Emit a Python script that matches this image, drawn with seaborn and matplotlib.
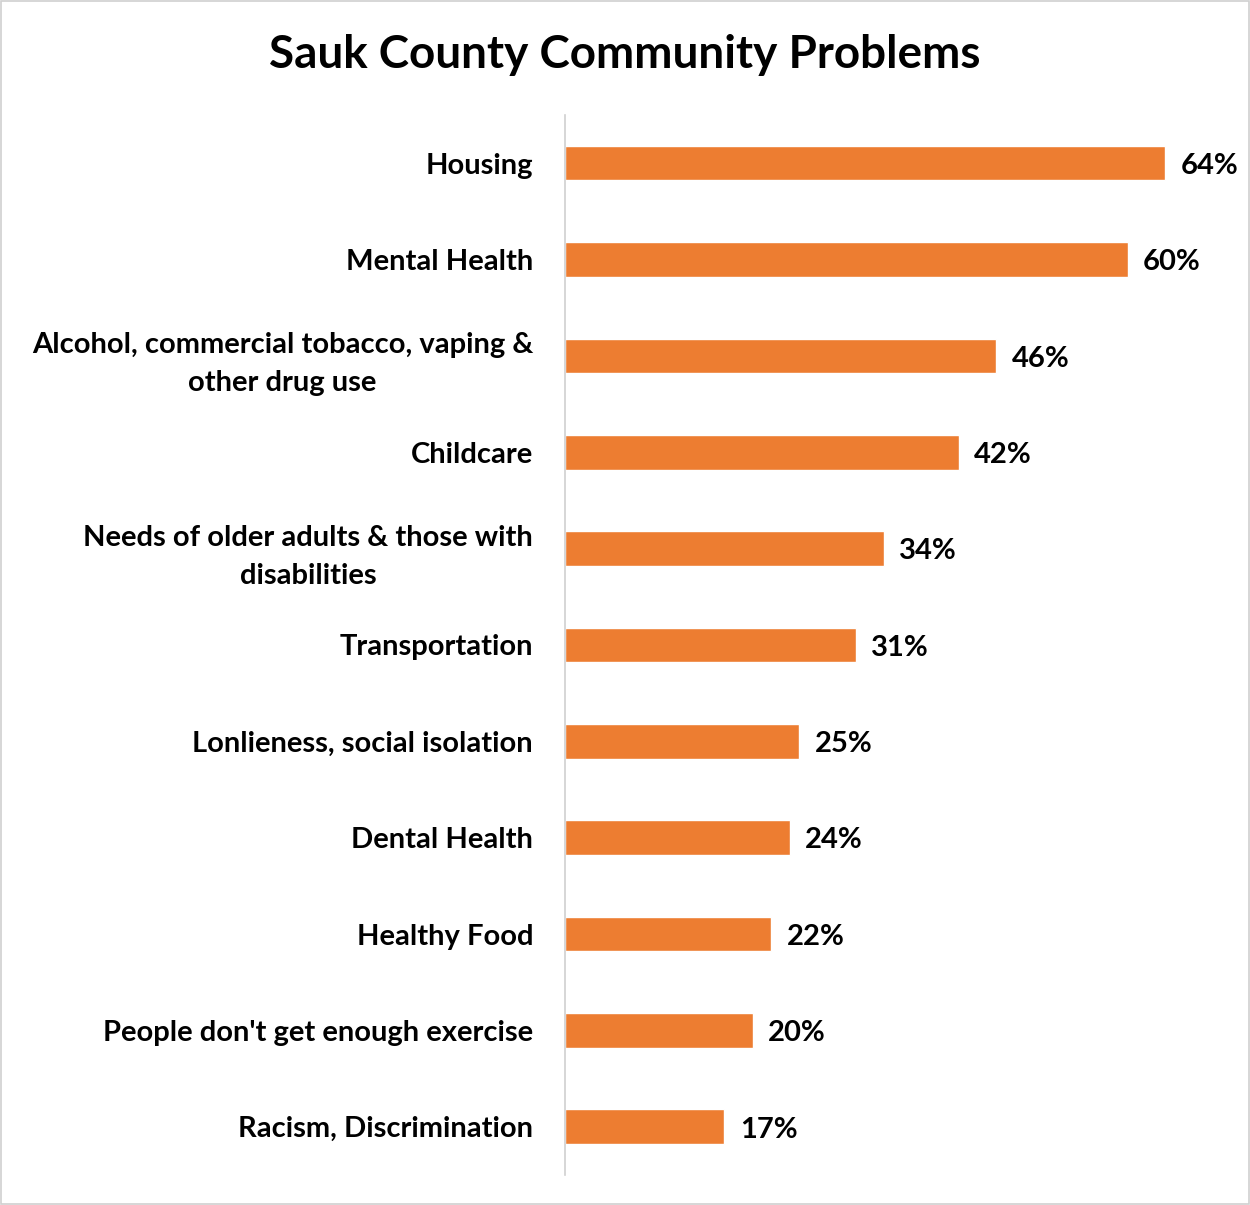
import numpy as np
import pandas as pd
import seaborn as sns
import matplotlib.pyplot as plt
from matplotlib.patches import Rectangle

problems = [
    "Housing",
    "Mental Health",
    "Alcohol, commercial tobacco, vaping &\nother drug use",
    "Childcare",
    "Needs of older adults & those with\ndisabilities",
    "Transportation",
    "Lonlieness, social isolation",
    "Dental Health",
    "Healthy Food",
    "People don't get enough exercise",
    "Racism, Discrimination",
]
pct = [64, 60, 46, 42, 34, 31, 25, 24, 22, 20, 17]

df = pd.DataFrame({"Problem": problems, "Percent": pct})

sns.set_theme(style="white")
plt.rcParams['font.family'] = ['Lato', 'DejaVu Sans']
plt.rcParams['text.color'] = 'black'
plt.rcParams['ytick.color'] = 'black'

fig = plt.figure(figsize=(12.5, 12.05), dpi=100)
ax = fig.add_axes([0.452, 0.0249, 0.54, 0.8797])

sns.barplot(data=df, x="Percent", y="Problem", color="#ED7D31", width=0.36,
            saturation=1, ax=ax)

ax.set_xlim(0, 72)
ax.set_ylim(10.5, -0.5)
ax.set_xlabel("")
ax.set_ylabel("")
ax.set_xticks([])
for s in ["top", "right", "bottom"]:
    ax.spines[s].set_visible(False)
ax.spines["left"].set_color("#D0D0D0")
ax.spines["left"].set_linewidth(1.2)

ax.tick_params(axis="y", length=0, pad=23)
for lbl in ax.get_yticklabels():
    lbl.set_fontsize(21)
    lbl.set_fontweight("bold")
    lbl.set_multialignment("center")
    lbl.set_linespacing(1.55)

# value labels just right of each bar
for i, v in enumerate(pct):
    ax.annotate(f"{v}%", (v, i), xytext=(11, -2), textcoords="offset points",
                va="center", ha="left", fontsize=21, fontweight="bold")

fig.suptitle("Sauk County Community Problems", y=0.954, va="center",
             fontsize=33, fontweight="bold")

fig.patches.append(Rectangle((0.001, 0.001), 0.998, 0.998, transform=fig.transFigure,
                             fill=False, edgecolor="#D0D0D0", linewidth=1.2))

fig.savefig("out.png", dpi=100)
